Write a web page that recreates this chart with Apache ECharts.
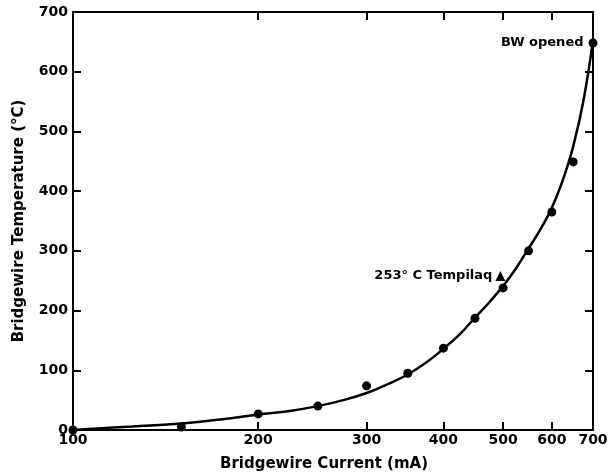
<!DOCTYPE html>
<html><head><meta charset="utf-8">
<script src="https://cdn.jsdelivr.net/npm/echarts@6/dist/echarts.min.js"></script>
<style>html,body{margin:0;padding:0;background:#fff}#c{width:616px;height:472px}</style>
</head><body><div id="c"></div>
<script>
// Measured points (current mA, temperature °C)
const currents = [100, 150, 200, 250, 300, 350, 400, 450, 500, 550, 600, 650, 700];
const temps    = [0,   5,   27,  40,  74,  95,  137, 187, 238, 300, 365, 449, 648];
// Fitted curve
const curveCurrents = [100, 125, 150, 175, 200, 225, 250, 275, 300, 325, 350, 375, 400, 425, 450, 475, 500, 525, 550, 575, 600, 625, 650, 675, 700];
const curveTemps    = [0,   6,   11,  18,  26,  32,  40,  50,  62,  77,  93,  113, 136, 160, 188, 214, 241, 271, 304, 336, 372, 418, 475, 550, 652];
// Tempilaq indicator
const tempilaqCurrent = [495];
const tempilaqTemp = [258];
const xTickValues = [100, 200, 300, 400, 500, 600, 700];
const xTopTicks = [200, 300, 400, 500, 600];
const annotBW = 'BW opened';
const annotTempilaq = '253° C Tempilaq';

const font = 'DejaVu Sans';
const chart = echarts.init(document.getElementById('c'));
const axisLine = {show: true, onZero: false, lineStyle: {color: '#000', width: 2}};
chart.setOption({
  animation: false,
  backgroundColor: '#fff',
  grid: {left: 73, right: 23, top: 12, bottom: 42, outerBoundsMode: 'none', containLabel: false},
  xAxis: [{
    type: 'log', logBase: 10, min: 100, max: 700,
    axisLine: axisLine,
    axisTick: {inside: true, length: 8, lineStyle: {color: '#000', width: 2}, customValues: xTickValues},
    axisLabel: {color: '#000', fontFamily: font, fontWeight: 'bold', fontSize: 14, margin: 3, customValues: xTickValues, formatter: v => String(Math.round(v))},
    splitLine: {show: false}, minorTick: {show: false},
    name: 'Bridgewire Current (mA)', nameLocation: 'middle', nameGap: 27,
    nameTextStyle: {color: '#000', fontFamily: font, fontWeight: 'bold', fontSize: 15, padding: [0, 18, 0, 0]}
  }, {
    type: 'log', logBase: 10, min: 100, max: 700, position: 'top',
    axisLine: axisLine,
    axisTick: {inside: true, length: 8, lineStyle: {color: '#000', width: 2}, customValues: xTopTicks},
    axisLabel: {show: false}, splitLine: {show: false}
  }],
  yAxis: [{
    type: 'value', min: 0, max: 700, interval: 100,
    axisLine: axisLine,
    axisTick: {inside: true, length: 8, lineStyle: {color: '#000', width: 2}},
    axisLabel: {color: '#000', fontFamily: font, fontWeight: 'bold', fontSize: 14, margin: 5},
    splitLine: {show: false},
    name: 'Bridgewire Temperature (°C)', nameLocation: 'middle', nameGap: 46,
    nameTextStyle: {color: '#000', fontFamily: font, fontWeight: 'bold', fontSize: 15}
  }, {
    type: 'value', min: 0, max: 700, interval: 100, position: 'right',
    axisLine: axisLine,
    axisTick: {inside: true, length: 8, lineStyle: {color: '#000', width: 2}},
    axisLabel: {show: false}, splitLine: {show: false}
  }],
  series: [{
    type: 'line', smooth: 0.4, showSymbol: false,
    data: curveCurrents.map((c, i) => [c, curveTemps[i]]),
    lineStyle: {color: '#000', width: 2.5}, z: 2
  }, {
    type: 'scatter', symbol: 'circle', symbolSize: 9,
    itemStyle: {color: '#000', opacity: 1},
    data: currents.map((c, i) => {
      const d = {value: [c, temps[i]]};
      if (i === currents.length - 1) d.label = {show: true, position: 'left', distance: 5, formatter: annotBW, color: '#000', fontFamily: font, fontWeight: 'bold', fontSize: 13};
      return d;
    }), z: 3
  }, {
    type: 'scatter', symbol: 'triangle', symbolSize: 10,
    itemStyle: {color: '#000', opacity: 1},
    data: tempilaqCurrent.map((c, i) => [c, tempilaqTemp[i]]),
    label: {show: true, position: 'left', distance: 3, formatter: annotTempilaq, color: '#000', fontFamily: font, fontWeight: 'bold', fontSize: 13},
    z: 3
  }]
});
</script></body></html>
